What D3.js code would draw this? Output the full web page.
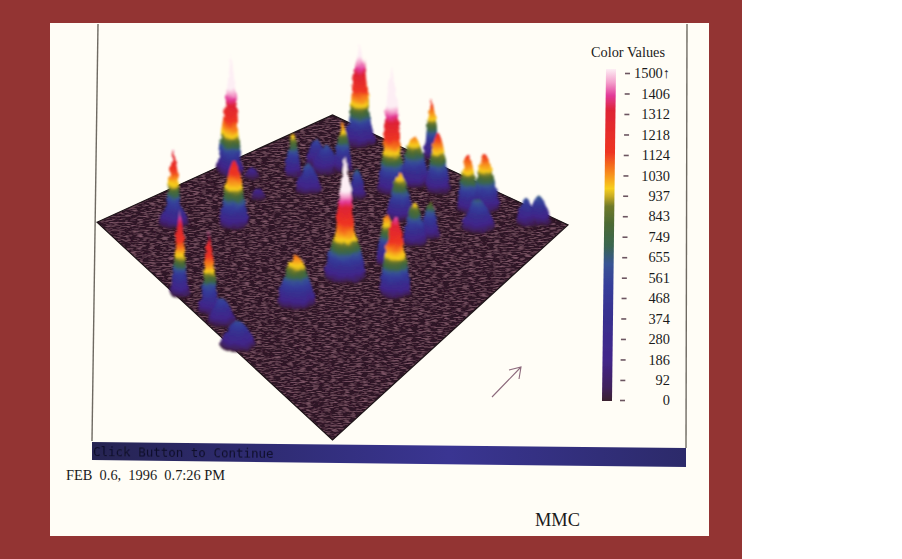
<!DOCTYPE html>
<html>
<head>
<meta charset="utf-8">
<script src="https://cdn.jsdelivr.net/npm/d3@7"></script>
<style>
html, body { margin: 0; padding: 0; background: #fff; }
svg { display: block; }
text { font-family: "Liberation Serif", serif; fill: #1a1a1a; }
</style>
</head>
<body>
<div id="chart"></div>
<script>
// floor corners, in grid units
var floorX = [0, 50, 100, 50];
var floorY = [33, 0, 33.8, 100];

// color legend
var legendTicks = [0, 92, 186, 280, 374, 468, 561, 655, 749, 843, 937, 1030, 1124, 1218, 1312, 1406, 1500];
var rampValues = [0, 60, 186, 374, 520, 620, 700, 800, 880, 925, 960, 1030, 1124, 1312, 1380, 1440, 1500];
var rampColors = ["#3a2030", "#41205c", "#42268a", "#38308f", "#363d9a", "#385494", "#3a6650", "#4c6a34", "#6f7a2a", "#c8ac22", "#f7cf1e", "#f78a1c", "#ee3522", "#de2434", "#e23a98", "#f4a0cc", "#fdeef4"];

// peaks: grid position, summit value, base spread, shape (m = mound, s = spike)
var peakX = [28.5, 27.2, 29.1, 16.3, 16.3, 17.6, 17.6, 23.8, 23.8, 42.3, 41.6, 46.5, 48.6, 44.8, 52.2, 55.8, 55.0, 56.9, 62.6, 61.8, 67.3, 71.1, 72.4, 78.8, 82.4, 80.9, 91.1, 93.8, 52.7, 52.7, 63.3, 61.6, 64.3, 67.5, 70.7, 55.2, 32.9, 34.2, 26.5, 29.9];
var peakY = [17.8, 16.9, 33.8, 32.9, 33.4, 54.8, 55.2, 59.7, 60.4, 57.8, 18.5, 14.8, 16.9, 23.1, 16.9, 8.3, 6.5, 6.5, 23.1, 22.5, 20.9, 12.9, 23.1, 29.2, 28.6, 34.5, 33.2, 32.9, 49.2, 49.5, 54.8, 45.5, 31.4, 39.4, 37.5, 25.2, 19.1, 25.5, 63.7, 70.8];
var peakValue = [1830, 1242, 1250, 1348, 600, 1476, 560, 1400, 620, 1050, 1000, 600, 620, 650, 1050, 1620, 1380, 1400, 1880, 1670, 1050, 1180, 1172, 1150, 1120, 680, 625, 650, 1830, 1180, 1400, 1067, 1020, 973, 900, 700, 240, 240, 580, 600];
var peakSpread = [2.6, 1.9, 3.0, 2.2, 3.2, 2.1, 1.9, 2.3, 2.4, 4.0, 1.7, 2.3, 3.0, 2.8, 1.9, 3.4, 1.5, 1.5, 3.2, 1.3, 3.2, 2.1, 2.5, 2.3, 3.0, 3.6, 2.1, 2.5, 3.4, 4.4, 3.2, 2.3, 2.8, 2.5, 1.9, 1.9, 1.7, 1.7, 3.0, 3.8];
var peakShape = ["s", "s", "m", "s", "m", "s", "m", "s", "m", "m", "m", "m", "m", "m", "m", "s", "s", "s", "s", "s", "m", "s", "m", "m", "m", "m", "m", "m", "s", "m", "m", "m", "m", "m", "m", "m", "m", "m", "m", "m"];

// width of a peak going from base to summit
var moundProfile = [1, .97, .92, .85, .77, .68, .59, .5, .4, .27, .1];
var spikeProfile = [1, .82, .68, .6, .54, .5, .44, .36, .25, .14, .04];

var width = 902, height = 559;

var svg = d3.select("#chart").append("svg")
    .attr("width", width)
    .attr("height", height);

var defs = svg.append("defs");

// scan texture of the floor
var grain = defs.append("filter").attr("id", "grain")
    .attr("x", 0).attr("y", 0).attr("width", 1).attr("height", 1);
grain.append("feTurbulence")
    .attr("type", "fractalNoise")
    .attr("baseFrequency", "0.16 0.8")
    .attr("numOctaves", 2)
    .attr("seed", 4)
    .attr("result", "noise");
grain.append("feColorMatrix")
    .attr("in", "noise")
    .attr("type", "matrix")
    .attr("values", "0 0 0 0 0.31  0 0 0 0 0.14  0 0 0 0 0.2  1.8 0 0 0 -0.8")
    .attr("result", "specks");
grain.append("feComposite")
    .attr("in", "specks")
    .attr("in2", "SourceAlpha")
    .attr("operator", "in")
    .attr("result", "clipped");
var grainMerge = grain.append("feMerge");
grainMerge.append("feMergeNode").attr("in", "SourceGraphic");
grainMerge.append("feMergeNode").attr("in", "clipped");

defs.append("filter").attr("id", "soft")
    .append("feGaussianBlur").attr("stdDeviation", 0.7);

// rough printed edge of the peaks
var rough = defs.append("filter").attr("id", "rough")
    .attr("filterUnits", "userSpaceOnUse")
    .attr("x", 0).attr("y", 0).attr("width", width).attr("height", height);
rough.append("feTurbulence")
    .attr("type", "fractalNoise")
    .attr("baseFrequency", "0.14")
    .attr("numOctaves", 2)
    .attr("seed", 7)
    .attr("result", "wobble");
rough.append("feDisplacementMap")
    .attr("in", "SourceGraphic")
    .attr("in2", "wobble")
    .attr("scale", 4)
    .attr("result", "moved");
rough.append("feGaussianBlur")
    .attr("in", "moved")
    .attr("stdDeviation", 0.8);

// page
svg.append("rect").attr("width", 742).attr("height", height).attr("fill", "#933433");
svg.append("rect").attr("x", 50).attr("y", 23).attr("width", 659).attr("height", 513).attr("fill", "#fffdf6");

// frame
var frame = svg.append("g").attr("fill", "none").attr("stroke", "#6f6a62").attr("stroke-width", 1.4);
frame.append("path").attr("d", "M98,24L92,441");
frame.append("path").attr("d", "M687,24L686,448");

// status bar
var barGradient = defs.append("linearGradient").attr("id", "barFill");
barGradient.append("stop").attr("offset", "0").attr("stop-color", "#262452");
barGradient.append("stop").attr("offset", "0.3").attr("stop-color", "#2f2c74");
barGradient.append("stop").attr("offset", "0.6").attr("stop-color", "#3a3592");
barGradient.append("stop").attr("offset", "1").attr("stop-color", "#2c2a6a");
svg.append("path")
    .attr("d", "M92,442L686,448L686,467L92,460Z")
    .attr("fill", "url(#barFill)");
svg.append("text")
    .attr("transform", "translate(93,456) rotate(0.6)")
    .attr("filter", "url(#soft)")
    .style("font-family", "'DejaVu Sans Mono', monospace")
    .style("font-size", "12.5px")
    .style("fill", "#10102a")
    .text("Click Button to Continue");

// scales
var x = d3.scaleLinear().domain([0, 100]).range([97, 568]);
var y = d3.scaleLinear().domain([0, 100]).range([115, 440]);
var lift = d3.scaleLinear().domain([0, 950, 1500, 2000]).range([0, 38, 85, 135]);
var color = d3.scaleLinear().domain(rampValues).range(rampColors).clamp(true);
var profileAt = d3.scaleLinear().domain(d3.range(11).map(function(d){ return d / 10; }));

// floor
var floorPoints = floorX.map(function(d, i){ return [x(d), y(floorY[i])]; });
svg.append("path")
    .attr("d", "M" + floorPoints.join("L") + "Z")
    .attr("fill", "#2f1626")
    .attr("filter", "url(#grain)");
svg.append("path")
    .attr("d", "M" + floorPoints.join("L") + "Z")
    .attr("fill", "none")
    .attr("stroke", "#1d1418")
    .attr("stroke-width", 1.2);

// peaks, back to front
var peaks = peakX.map(function(d, i){
    return { x: d, y: peakY[i], value: peakValue[i], spread: peakSpread[i], shape: peakShape[i] };
}).sort(function(a, b){ return a.y - b.y; });

var peakGroup = svg.append("g").attr("filter", "url(#rough)");

peakGroup.selectAll("g")
    .data(peaks)
    .enter().append("g")
    .each(function(p){
        var top = lift(p.value);
        var cx = x(p.x), cy = y(p.y);
        var base = x(p.spread) - x(0);
        var profile = profileAt.copy().range(p.shape == "s" ? spikeProfile : moundProfile);
        d3.select(this).selectAll("ellipse")
            .data(d3.range(0, top, 0.6))
            .enter().append("ellipse")
            .attr("cx", cx)
            .attr("cy", function(d){ return cy - d; })
            .attr("rx", function(d){ return base * profile(d / top); })
            .attr("ry", function(d){ return base * profile(d / top) * 0.4; })
            .attr("fill", function(d){ return color(lift.invert(d)); });
    });

// north arrow
svg.append("path")
    .attr("d", "M492,397L521,367M509,370L521,367L519,379")
    .attr("fill", "none")
    .attr("stroke", "#8c6a7c")
    .attr("stroke-width", 1.1);

// legend
var legendY = d3.scaleLinear().domain([0, 1500]).range([400, 73]);
var legendSlant = d3.scaleLinear().domain([0, 1500]).range([0, 5]);

var rampGradient = defs.append("linearGradient").attr("id", "rampFill")
    .attr("x1", 0).attr("y1", 1).attr("x2", 0).attr("y2", 0);
rampValues.forEach(function(d, i){
    rampGradient.append("stop")
        .attr("offset", d / 1500)
        .attr("stop-color", rampColors[i]);
});
svg.append("path")
    .attr("d", "M606,69L616,69L612,401L602,401Z")
    .attr("fill", "url(#rampFill)")
    .attr("filter", "url(#soft)");

var legendAxis = d3.axisRight(legendY)
    .tickValues(legendTicks)
    .tickSize(5)
    .tickFormat(function(d){ return d == 1500 ? "1500\u2191" : d; });

var legend = svg.append("g")
    .attr("transform", "translate(620,0)")
    .call(legendAxis);
legend.select(".domain").remove();
legend.selectAll(".tick line")
    .attr("transform", function(d){ return "translate(" + legendSlant(d) + ",0)"; })
    .attr("stroke", "#6b5560")
    .attr("stroke-width", 1.6);
legend.selectAll(".tick text")
    .attr("x", 50)
    .attr("text-anchor", "end")
    .style("font-family", "'Liberation Serif', serif")
    .style("font-size", "14.4px")
    .style("fill", "#1a1a1a");

svg.append("text")
    .attr("x", 628).attr("y", 57)
    .attr("text-anchor", "middle")
    .style("font-size", "14.3px")
    .text("Color Values");

// captions
svg.append("text")
    .attr("x", 66).attr("y", 480)
    .attr("xml:space", "preserve")
    .style("font-size", "14.4px")
    .style("white-space", "pre")
    .text("FEB  0.6,  1996  0.7:26 PM");

svg.append("text")
    .attr("x", 535).attr("y", 526)
    .style("font-size", "18.4px")
    .text("MMC");
</script>
</body>
</html>
